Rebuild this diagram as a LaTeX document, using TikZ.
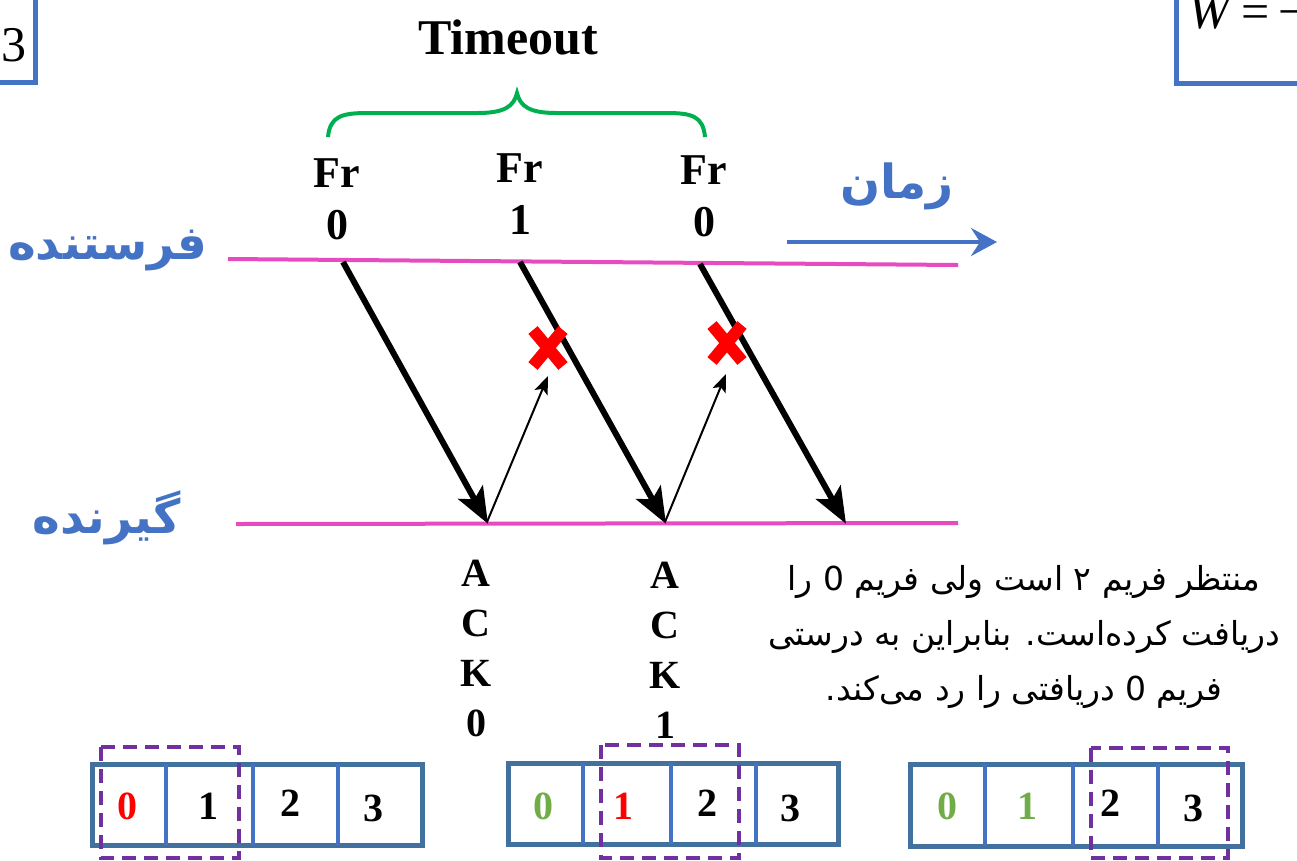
\documentclass[tikz,border=0pt]{standalone}
\usepackage{fontspec}
\setmainfont{Liberation Serif}
\newfontfamily\fa[Script=Arabic]{DejaVu Sans}
\TeXXeTstate=1
\usetikzlibrary{arrows.meta}
\definecolor{tblue}{HTML}{4472C4}
\definecolor{tpink}{HTML}{E64BC0}
\definecolor{tgreen}{HTML}{00B050}
\definecolor{dgreen}{HTML}{70AD47}
\definecolor{tpurple}{HTML}{7030A0}
\definecolor{boxblue}{HTML}{41719C}
\begin{document}
\begin{tikzpicture}[x=1pt,y=-1pt,
  timeline/.style={draw=tpink,line width=4pt},
  framearrow/.style={draw=black,line width=6pt,-{Stealth[length=36pt,width=28pt,inset=8pt]},shorten >=-2pt},
  ackarrow/.style={draw=black,line width=2pt,-{Stealth[length=18pt,width=14pt,inset=4pt]}},
  xmark/.style={draw=red,line width=12pt},
  framelbl/.style={font=\bfseries\fontsize{44}{52}\selectfont,align=center,inner sep=0pt},
  acklbl/.style={font=\bfseries\fontsize{40}{50}\selectfont,align=center,inner sep=0pt},
  falbl/.style={text=tblue,font=\fa\bfseries\fontsize{47}{54}\selectfont,inner sep=0pt},
  winbox/.style={draw=boxblue,line width=5pt},
  divider/.style={draw=tblue,line width=4pt},
  winframe/.style={draw=tpurple,line width=4pt,dash pattern=on 14pt off 8pt},
  digit/.style={font=\bfseries\fontsize{40}{48}\selectfont,inner sep=0pt},
  slidebox/.style={draw=tblue,line width=5pt}
]
\useasboundingbox (0,0) rectangle (1297,860);

% partial slide boxes at the top corners
\draw[slidebox] (-20,-20) rectangle (35,82);
\node[font=\fontsize{50}{56}\selectfont,inner sep=0pt] (three) at (14,45) {3};
\draw[slidebox] (1176,-20) rectangle (1320,83);
\node[font=\fontsize{50}{56}\selectfont,inner sep=0pt,anchor=base west] (weq) at (1188,28) {\textit{W}\,=\,−};

% title and brace
\node[font=\bfseries\fontsize{50}{56}\selectfont,inner sep=0pt] (timeout) at (508,37) {Timeout};
\draw[draw=tgreen,line width=4pt] (328,137) .. controls (330,116) and (342,113) .. (368,113) -- (478,113)
  .. controls (505,113) and (514,106) .. (517,93)
  .. controls (520,106) and (529,113) .. (556,113) -- (666,113)
  .. controls (692,113) and (703,116) .. (705,137);

% frame labels
\node[framelbl] (fr1) at (337,199) {Fr\\0};
\node[framelbl] (fr2) at (520,194) {Fr\\1};
\node[framelbl] (fr3) at (704,196) {Fr\\0};

% time arrow
\node[falbl] (zaman) at (897,186) {\beginR زمان\endR};
\coordinate (t0) at (787,242);
\coordinate (t1) at (997,242);
\draw[draw=tblue,line width=4pt,-{Stealth[length=26pt,width=28pt,inset=9pt]}] (t0) -- (t1);

% sender and receiver lines
\node[falbl] (sender) at (108,250) {\beginR فرستنده\endR};
\node[falbl] (receiver) at (107,518) {\beginR گیرنده\endR};
\coordinate (sl) at (228,259);
\coordinate (sr) at (958,265);
\coordinate (rl) at (236,524);
\coordinate (rr) at (958,523);
\draw[timeline] (sl) -- (sr);
\draw[timeline] (rl) -- (rr);

% frames
\coordinate (s1) at (343,262);
\coordinate (s2) at (520,262);
\coordinate (s3) at (700,264);
\coordinate (r1) at (487,522);
\coordinate (r2) at (665,522);
\coordinate (r3) at (845,522);
\draw[framearrow] (s1) -- (r1);
\draw[framearrow] (s2) -- (r2);
\draw[framearrow] (s3) -- (r3);

% acks
\coordinate (a1) at (548,376);
\coordinate (a2) at (726,374);
\draw[ackarrow] (r1) -- (a1);
\draw[ackarrow] (r2) -- (a2);

% lost marks
\coordinate (x1) at (548,348);
\coordinate (x2) at (727,343);
\draw[xmark] (x1) ++(-15,-18) -- ++(30,36);
\draw[xmark] (x1) ++(15,-18) -- ++(-30,36);
\draw[xmark] (x2) ++(-15,-18) -- ++(30,36);
\draw[xmark] (x2) ++(15,-18) -- ++(-30,36);

% ack labels
\node[acklbl] (ack0) at (476,648) {A\\C\\K\\0};
\node[acklbl] (ack1) at (665,650) {A\\C\\K\\1};

% explanation
\node[font=\fa\fontsize{33}{55}\selectfont,align=center,inner sep=0pt] (note) at (1024,637)
  {\beginR منتظر فریم ۲ است ولی فریم 0 را\endR\\
   \beginR دریافت کرده‌است. بنابراین به درستی\endR\\
   \beginR فریم 0 دریافتی را رد می‌کند.\endR};

% window 1
\draw[winbox] (92,764) rectangle (422,845);
\draw[divider] (166,764) -- (166,845);
\draw[divider] (253,764) -- (253,845);
\draw[divider] (338,764) -- (338,845);
\node[digit,text=red] (w1d0) at (127,806) {0};
\node[digit] (w1d1) at (208,806) {1};
\node[digit] (w1d2) at (290,803) {2};
\node[digit] (w1d3) at (373,808) {3};
\draw[winframe] (101,747) rectangle (239,858);

% window 2
\draw[winbox] (508,763) rectangle (838,844);
\draw[divider] (583,763) -- (583,844);
\draw[divider] (671,763) -- (671,844);
\draw[divider] (756,763) -- (756,844);
\node[digit,text=dgreen] (w2d0) at (543,806) {0};
\node[digit,text=red] (w2d1) at (623,806) {1};
\node[digit] (w2d2) at (707,803) {2};
\node[digit] (w2d3) at (790,808) {3};
\draw[winframe] (601,745) rectangle (739,858);

% window 3
\draw[winbox] (910,764) rectangle (1242,846);
\draw[divider] (985,764) -- (985,846);
\draw[divider] (1073,764) -- (1073,846);
\draw[divider] (1158,764) -- (1158,846);
\node[digit,text=dgreen] (w3d0) at (947,806) {0};
\node[digit,text=dgreen] (w3d1) at (1027,806) {1};
\node[digit] (w3d2) at (1110,803) {2};
\node[digit] (w3d3) at (1193,808) {3};
\draw[winframe] (1091,748) rectangle (1228,858);
\end{tikzpicture}
\end{document}
